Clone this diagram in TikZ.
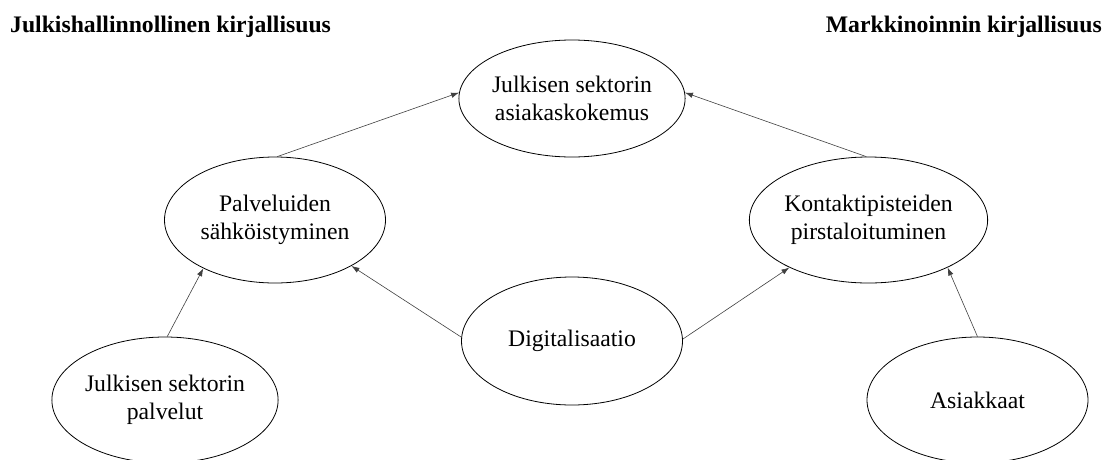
\documentclass[tikz,border=0pt]{standalone}
\usepackage{fontspec}
\setmainfont{Liberation Serif}
\usepackage{tikz}
\usetikzlibrary{shapes,arrows.meta}
\tikzset{
	concept/.style={draw=black, ellipse, line width=0.8pt, inner sep=0pt, align=center,
		minimum width=221, minimum height=126,
		font=\fontsize{23.7}{28}\selectfont},
	influence/.style={draw=black!75, line width=0.6pt,
		-{Latex[length=8pt,width=5.5pt]}},
	heading/.style={font=\fontsize{23.7}{28}\selectfont\bfseries, inner sep=0pt},
}
\begin{document}
\begin{tikzpicture}[x=1pt, y=-1pt]
	\useasboundingbox (0,0) rectangle (1106,459);
	% headings
	\node[heading, anchor=base west] (hleft) at (10,32) {Julkishallinnollinen kirjallisuus};
	\node[heading, anchor=base east] (hright) at (1102,32) {Markkinoinnin kirjallisuus};
	% ellipses
	\node[concept, minimum height=117] (kokemus) at (572,98.5) {Julkisen sektorin\\asiakaskokemus};
	\node[concept] (sahko) at (275,220) {Palveluiden\\sähköistyminen};
	\node[concept] (kontakti) at (868.5,220) {Kontaktipisteiden\\pirstaloituminen};
	\node[concept, minimum height=128] (digi) at (572,341) {Digitalisaatio};
	\node[concept] (palvelut) at (165,400) {Julkisen sektorin\\palvelut};
	\node[concept] (asiakkaat) at (977.5,400) {Asiakkaat};
	% arrows
	\draw[influence] (sahko.88) -- (kokemus.177);
	\draw[influence] (kontakti.92) -- (kokemus.3);
	\draw[influence] (digi.178) -- (sahko.-31);
	\draw[influence] (digi.1) -- (kontakti.-149);
	\draw[influence] (palvelut.88) -- (sahko.-146);
	\draw[influence] (asiakkaat.90) -- (kontakti.-31);
\end{tikzpicture}
\end{document}
